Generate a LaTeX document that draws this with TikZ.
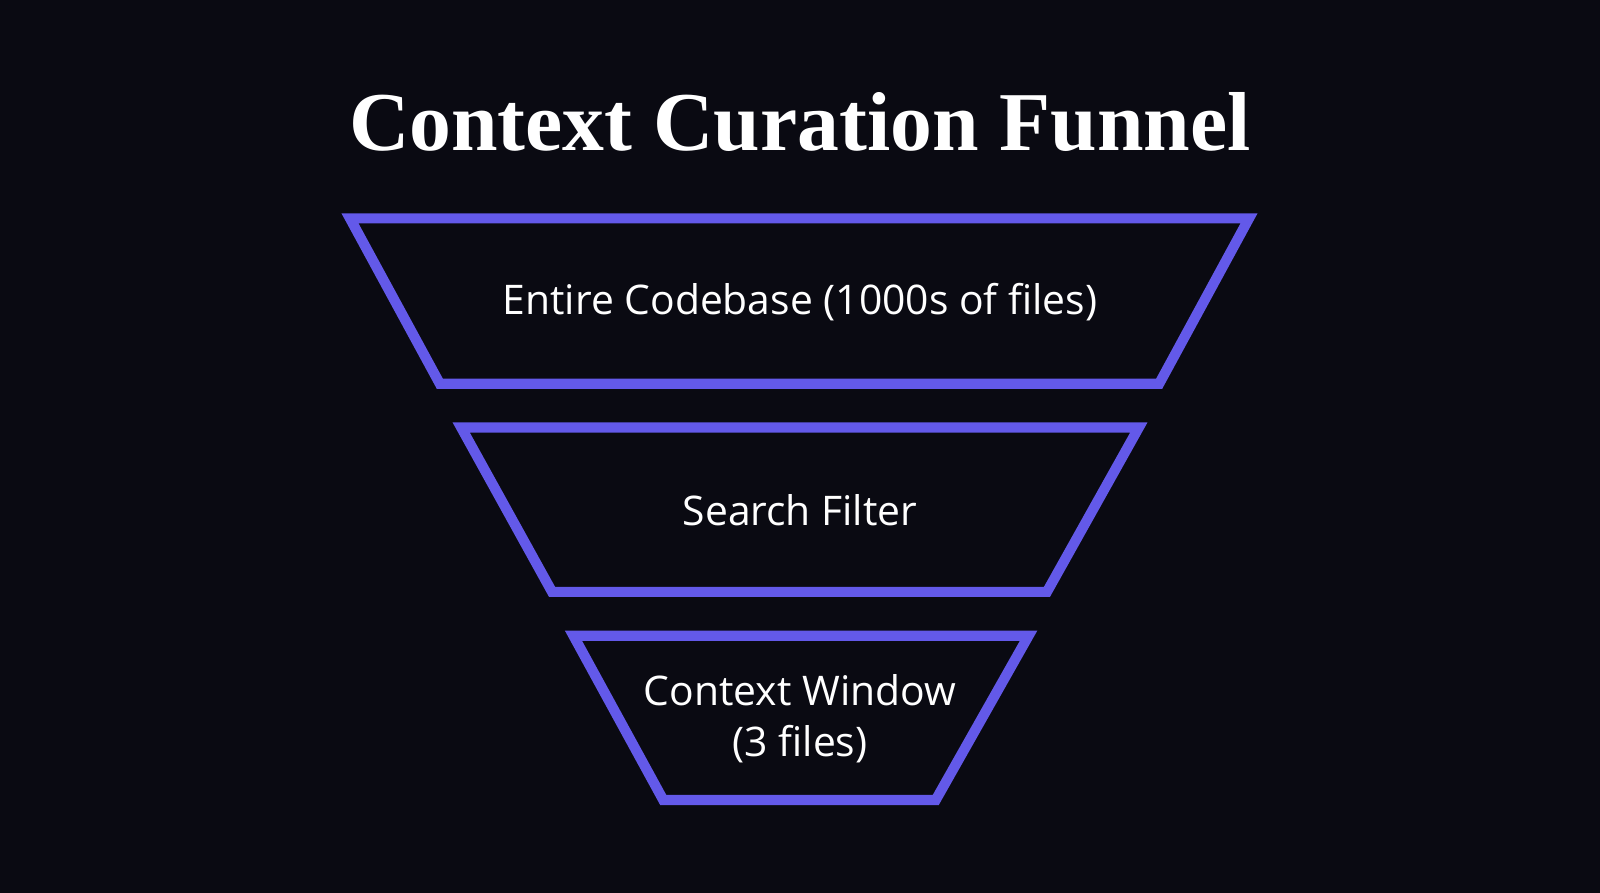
\documentclass[tikz,border=0pt]{standalone}
\usepackage{fontspec}
\setmainfont{Open Sans}
\newfontfamily\titlefont{Liberation Serif}
\definecolor{bg}{HTML}{0A0A12}
\definecolor{fun}{HTML}{6359E9}
\begin{document}
\begin{tikzpicture}[x=0.5pt,y=-0.5pt,
  funnel/.style={draw=fun,line width=5pt,line join=miter},
  lbl/.style={text=white,font=\fontsize{20}{25}\selectfont,align=center}]
\fill[bg] (0,0) rectangle (1568,875);
\useasboundingbox (0,0) rectangle (1568,875);
\node[text=white,font=\titlefont\fontsize{41}{48}\selectfont\bfseries] (title) at (784,120) {Context Curation Funnel};
\draw[funnel] (343,214) -- (1224,214) -- (1136,376) -- (431,376) -- cycle;
\draw[funnel] (452,419) -- (1116,419) -- (1026,580) -- (541,580) -- cycle;
\draw[funnel] (562,623) -- (1008,623) -- (917,784) -- (650,784) -- cycle;
\node[lbl] (a) at (784,296) {Entire Codebase (1000s of files)};
\node[lbl] (b) at (784,500) {Search Filter};
\node[lbl] (c) at (784,704) {Context Window\\(3 files)};
\end{tikzpicture}
\end{document}
